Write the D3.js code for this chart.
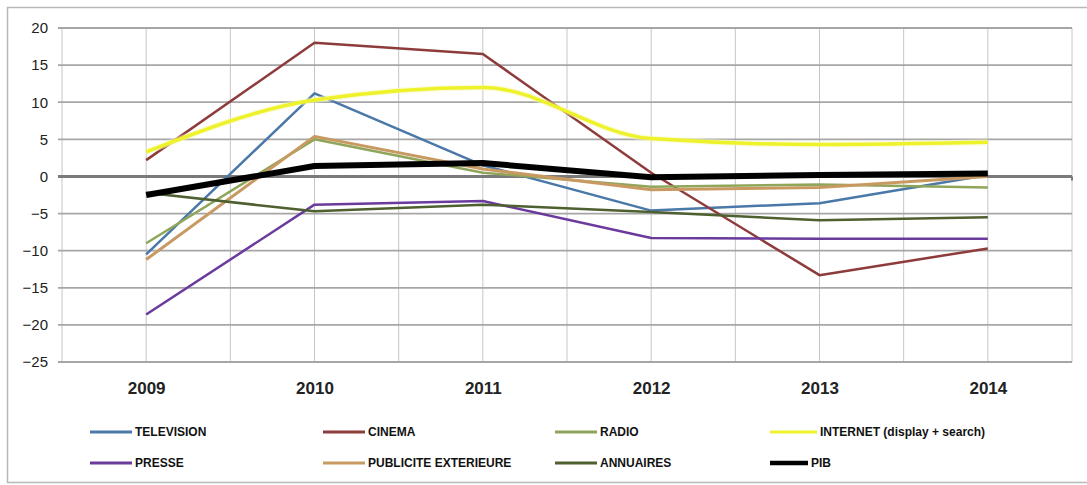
<!DOCTYPE html>
<html>
<head>
<meta charset="utf-8">
<script src="https://cdn.jsdelivr.net/npm/d3@7"></script>
<style>
  body { margin: 0; background: #fff; }
  svg { font-family: "Liberation Sans", Arial, sans-serif; }
  .ytick { font-size: 15px; fill: #222; }
  .xtick { font-size: 17px; font-weight: bold; fill: #222; }
  .legend text { font-size: 12px; font-weight: bold; fill: #111; }
</style>
</head>
<body>
<svg id="chart" width="1087" height="485"></svg>
<script>
const years = ["2009", "2010", "2011", "2012", "2013", "2014"];
const yTicks = [20, 15, 10, 5, 0, -5, -10, -15, -20, -25];

const television = [-10.5, 11.2, 1.5, -4.6, -3.6, 0.2];
const cinema = [2.2, 18.0, 16.5, 0.5, -13.3, -9.7];
const radio = [-9.0, 5.0, 0.5, -1.4, -1.1, -1.5];
const internet = [3.3, 10.3, 12.0, 5.1, 4.3, 4.6];
const presse = [-18.6, -3.8, -3.3, -8.3, -8.4, -8.4];
const publicite = [-11.2, 5.4, 1.0, -1.8, -1.5, 0.0];
const annuaires = [-2.2, -4.7, -3.8, -4.8, -5.9, -5.5];
const pib = [-2.5, 1.4, 1.8, -0.1, 0.2, 0.4];

const series = [
  { name: "TELEVISION", values: television, color: "#4a78a8", width: 2.5 },
  { name: "CINEMA", values: cinema, color: "#8e3b3b", width: 2.5 },
  { name: "RADIO", values: radio, color: "#8fa65a", width: 2.5 },
  { name: "INTERNET (display + search)", values: internet, color: "#eef22a", width: 3.5, smooth: true },
  { name: "PRESSE", values: presse, color: "#6a3a9c", width: 2.5 },
  { name: "PUBLICITE EXTERIEURE", values: publicite, color: "#c89a62", width: 3 },
  { name: "ANNUAIRES", values: annuaires, color: "#4e5f30", width: 2.5 },
  { name: "PIB", values: pib, color: "#000000", width: 6 }
];

const svg = d3.select("svg#chart");

const plot = { left: 62, right: 1072, top: 28, bottom: 362 };

const x = d3.scalePoint()
  .domain(years)
  .range([plot.left, plot.right])
  .padding(0.5);

const y = d3.scaleLinear()
  .domain([-25, 20])
  .range([plot.bottom, plot.top]);

// outer frame (left, top, bottom)
svg.append("path")
  .attr("d", "M1087,7.5 H7.5 V482.5 H1087")
  .attr("fill", "none")
  .attr("stroke", "#b8b8b8")
  .attr("stroke-width", 1.5);

// vertical gridlines at band edges and centres
const half = x.step() / 2;
const vLines = [];
years.forEach(function(d) {
  vLines.push(x(d) - half);
  vLines.push(x(d));
});
vLines.push(plot.right);

svg.append("g").selectAll("line")
  .data(vLines)
  .enter()
  .append("line")
  .attr("x1", d => d).attr("x2", d => d)
  .attr("y1", plot.top).attr("y2", plot.bottom)
  .attr("stroke", "#c6c6c6")
  .attr("stroke-width", 1);

// horizontal gridlines
svg.append("g").selectAll("line")
  .data(yTicks.filter(d => d !== 0))
  .enter()
  .append("line")
  .attr("x1", plot.left - 4).attr("x2", plot.right)
  .attr("y1", d => y(d)).attr("y2", d => y(d))
  .attr("stroke", "#a6a6a6")
  .attr("stroke-width", 1.8);

// y axis labels
const yAxis = d3.axisLeft(y).tickValues(yTicks).tickSize(0).tickPadding(14);
const ya = svg.append("g")
  .attr("transform", "translate(" + plot.left + ",0)")
  .call(yAxis);
ya.select(".domain").remove();
ya.selectAll("text").attr("class", "ytick").attr("font-family", null).attr("font-size", null);

// x axis labels
const xAxis = d3.axisBottom(x).tickSize(0).tickPadding(20);
const xa = svg.append("g")
  .attr("transform", "translate(0," + plot.bottom + ")")
  .call(xAxis);
xa.select(".domain").remove();
xa.selectAll("text").attr("class", "xtick").attr("font-family", null).attr("font-size", null);

// zero line
svg.append("line")
  .attr("x1", plot.left - 4).attr("x2", plot.right)
  .attr("y1", y(0)).attr("y2", y(0))
  .attr("stroke", "#7a7a7a")
  .attr("stroke-width", 3);
svg.append("line")
  .attr("x1", plot.right).attr("x2", plot.right)
  .attr("y1", y(0)).attr("y2", y(0) + 4)
  .attr("stroke", "#7a7a7a")
  .attr("stroke-width", 2);

// series lines
const lineLinear = d3.line()
  .x((d, i) => x(years[i]))
  .y(d => y(d));
const lineSmooth = d3.line()
  .x((d, i) => x(years[i]))
  .y(d => y(d))
  .curve(d3.curveMonotoneX);

const gLines = svg.append("g");
series.forEach(function(s) {
  const gen = s.smooth ? lineSmooth : lineLinear;
  if (s.smooth) {
    gLines.append("path")
      .attr("d", gen(s.values))
      .attr("fill", "none")
      .attr("stroke", "#f8f9b8")
      .attr("stroke-width", s.width + 2.5)
      .attr("stroke-opacity", 0.5)
      .attr("stroke-linejoin", "round");
  }
  gLines.append("path")
    .attr("d", gen(s.values))
    .attr("fill", "none")
    .attr("stroke", s.color)
    .attr("stroke-width", s.width)
    .attr("stroke-linejoin", "round");
});

// legend
const legendCols = [90, 323, 555, 770];
const legendRows = [432, 463];
const legend = svg.append("g").attr("class", "legend");
series.forEach(function(s, i) {
  const lx = legendCols[i % 4];
  const ly = legendRows[Math.floor(i / 4)];
  const len = s.smooth ? 47 : (s.name === "PIB" ? 38 : 42);
  const item = legend.append("g").attr("transform", "translate(" + lx + "," + ly + ")");
  item.append("line")
    .attr("x1", 0).attr("x2", len)
    .attr("y1", 0).attr("y2", 0)
    .attr("stroke", s.color)
    .attr("stroke-width", s.name === "PIB" ? 4.5 : 3);
  item.append("text")
    .attr("x", len + 3)
    .attr("y", 0)
    .attr("dy", "0.35em")
    .text(s.name);
});
</script>
</body>
</html>
